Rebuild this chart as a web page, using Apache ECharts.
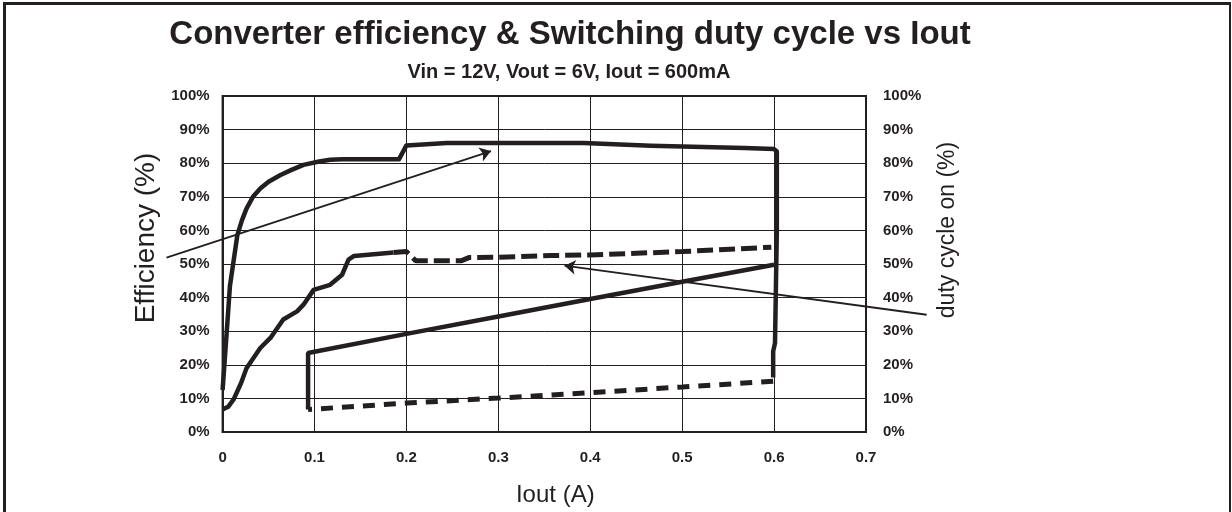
<!DOCTYPE html>
<html>
<head>
<meta charset="utf-8">
<script src="https://cdn.jsdelivr.net/npm/echarts@6/dist/echarts.min.js"></script>
<style>
  html, body { margin: 0; padding: 0; background: #fff; }
  #chart { position: absolute; left: 0; top: 0; width: 1232px; height: 512px; }
  #frame {
    position: absolute; left: 3px; top: 2px; width: 1223px; height: 510px;
    border-top: 3px solid #231f20; border-left: 3px solid #231f20; border-right: 2px solid #231f20;
    pointer-events: none;
  }
</style>
</head>
<body>
<div id="chart"></div>
<div id="frame"></div>
<script>
// x ticks (Iout, A) and y ticks (%)
const xTicks = [0, 0.1, 0.2, 0.3, 0.4, 0.5, 0.6, 0.7]
const yTicks = [0, 10, 20, 30, 40, 50, 60, 70, 80, 90, 100]

// efficiency curve, then drop at 0.6 A
const efficiency = [
  [0, 12.5], [0.003, 24], [0.008, 43.5], [0.016, 58.5], [0.021, 63], [0.026, 66.5],
  [0.033, 70], [0.041, 72.5], [0.05, 74.5], [0.063, 76.5], [0.075, 78], [0.088, 79.5],
  [0.105, 80.5], [0.117, 81], [0.13, 81.2], [0.192, 81.2], [0.2, 85.3], [0.244, 86],
  [0.3, 86], [0.393, 86], [0.466, 85.2], [0.568, 84.5], [0.6, 84.2], [0.603, 83.5],
  [0.603, 60], [0.601, 26.5], [0.599, 24], [0.599, 16.2]
]

// lower dashed return line
const lowerDashed = [
  [0.599, 15.1], [0.5, 13.4], [0.4, 11.7], [0.3, 10.1], [0.2, 8.6], [0.093, 6.7]
]

// lower solid rising line
const lowerSolid = [
  [0.093, 6.7], [0.093, 23.5], [0.2, 29.2], [0.3, 34.4], [0.4, 39.6], [0.5, 44.7], [0.6, 49.8]
]

// duty cycle: solid start, dashed plateau
const dutySolid = [
  [0, 6.7], [0.006, 7.5], [0.012, 9.7], [0.02, 14.5], [0.026, 19], [0.041, 25],
  [0.052, 28], [0.066, 33.5], [0.081, 35.9], [0.088, 37.9], [0.099, 42.3], [0.117, 43.8],
  [0.13, 46.8], [0.137, 51.3], [0.143, 52.4], [0.186, 53.4]
]
const dutyDashed = [
  [0.186, 53.4], [0.2, 53.7], [0.21, 51], [0.26, 51], [0.268, 51.9], [0.3, 52],
  [0.357, 52.5], [0.4, 52.7], [0.5, 53.7], [0.597, 55]
]

// annotation arrows (from label to curve)
const arrowEff = [[-0.061, 51.9], [0.292, 83.6]]
const arrowDuty = [[0.766, 34.9], [0.372, 49.5]]

const ink = '#231f20'
const font = 'Liberation Sans, Arial, sans-serif'

const chart = echarts.init(document.getElementById('chart'))

const tickLabel = {
  color: ink, fontFamily: font, fontWeight: 'bold', fontSize: 15
}

const option = {
  animation: false,
  title: [
    {
      text: 'Converter efficiency & Switching duty cycle vs Iout',
      left: 565, top: 13, textAlign: 'center',
      textStyle: { color: ink, fontFamily: font, fontWeight: 'bold', fontSize: 33 }
    },
    {
      text: 'Vin = 12V, Vout = 6V, Iout = 600mA',
      left: 564, top: 57, textAlign: 'center',
      textStyle: { color: ink, fontFamily: font, fontWeight: 'bold', fontSize: 20 }
    }
  ],
  grid: {
    left: 222.6, right: 366, top: 96, bottom: 79.5,
    show: true, borderColor: ink, borderWidth: 2, backgroundColor: 'transparent'
  },
  xAxis: {
    type: 'value',
    min: xTicks[0], max: xTicks[xTicks.length - 1], interval: 0.1,
    name: 'Iout (A)', nameLocation: 'middle', nameGap: 51,
    nameTextStyle: { color: ink, fontFamily: font, fontSize: 24, padding: [0, 0, 0, 22] },
    axisLine: { show: true, lineStyle: { color: ink, width: 2 } },
    axisTick: { show: false },
    axisLabel: { ...tickLabel, margin: 18 },
    splitLine: { show: true, lineStyle: { color: ink, width: 1 } }
  },
  yAxis: [
    {
      type: 'value',
      min: yTicks[0], max: yTicks[yTicks.length - 1], interval: 10,
      name: 'Efficiency (%)', nameLocation: 'middle', nameGap: 62, nameRotate: 90,
      nameTextStyle: { color: ink, fontFamily: font, fontSize: 28, padding: [0, 0, 0, 52] },
      axisLine: { show: true, lineStyle: { color: ink, width: 2 } },
      axisTick: { show: false },
      axisLabel: { ...tickLabel, margin: 13, formatter: '{value}%' },
      splitLine: { show: true, lineStyle: { color: ink, width: 1 } }
    },
    {
      type: 'value', position: 'right',
      min: yTicks[0], max: yTicks[yTicks.length - 1], interval: 10,
      name: 'duty cycle on (%)', nameLocation: 'middle', nameGap: 70, nameRotate: 90,
      nameTextStyle: { color: ink, fontFamily: font, fontSize: 23, padding: [0, 0, 0, 68] },
      axisLine: { show: true, lineStyle: { color: ink, width: 2 } },
      axisTick: { show: false },
      axisLabel: { ...tickLabel, margin: 17, formatter: '{value}%' },
      splitLine: { show: false }
    }
  ],
  series: [
    {
      type: 'line', data: efficiency, symbol: 'none',
      lineStyle: { color: ink, width: 4.5, join: 'round' }
    },
    {
      type: 'line', data: lowerDashed, symbol: 'none',
      lineStyle: { color: ink, width: 5, type: [12, 9] }
    },
    {
      type: 'line', data: lowerSolid, symbol: 'none',
      lineStyle: { color: ink, width: 4.5 }
    },
    {
      type: 'line', data: dutySolid, symbol: 'none',
      lineStyle: { color: ink, width: 4.5, join: 'round' }
    },
    {
      type: 'line', data: dutyDashed, symbol: 'none',
      lineStyle: { color: ink, width: 5, type: [16, 6] }
    },
    {
      type: 'lines', coordinateSystem: 'cartesian2d', clip: false,
      symbol: ['none', 'arrow'], symbolSize: 11,
      lineStyle: { color: ink, width: 1.8, opacity: 1 },
      data: [{ coords: arrowEff }, { coords: arrowDuty }]
    }
  ]
}

chart.setOption(option)
</script>
</body>
</html>
